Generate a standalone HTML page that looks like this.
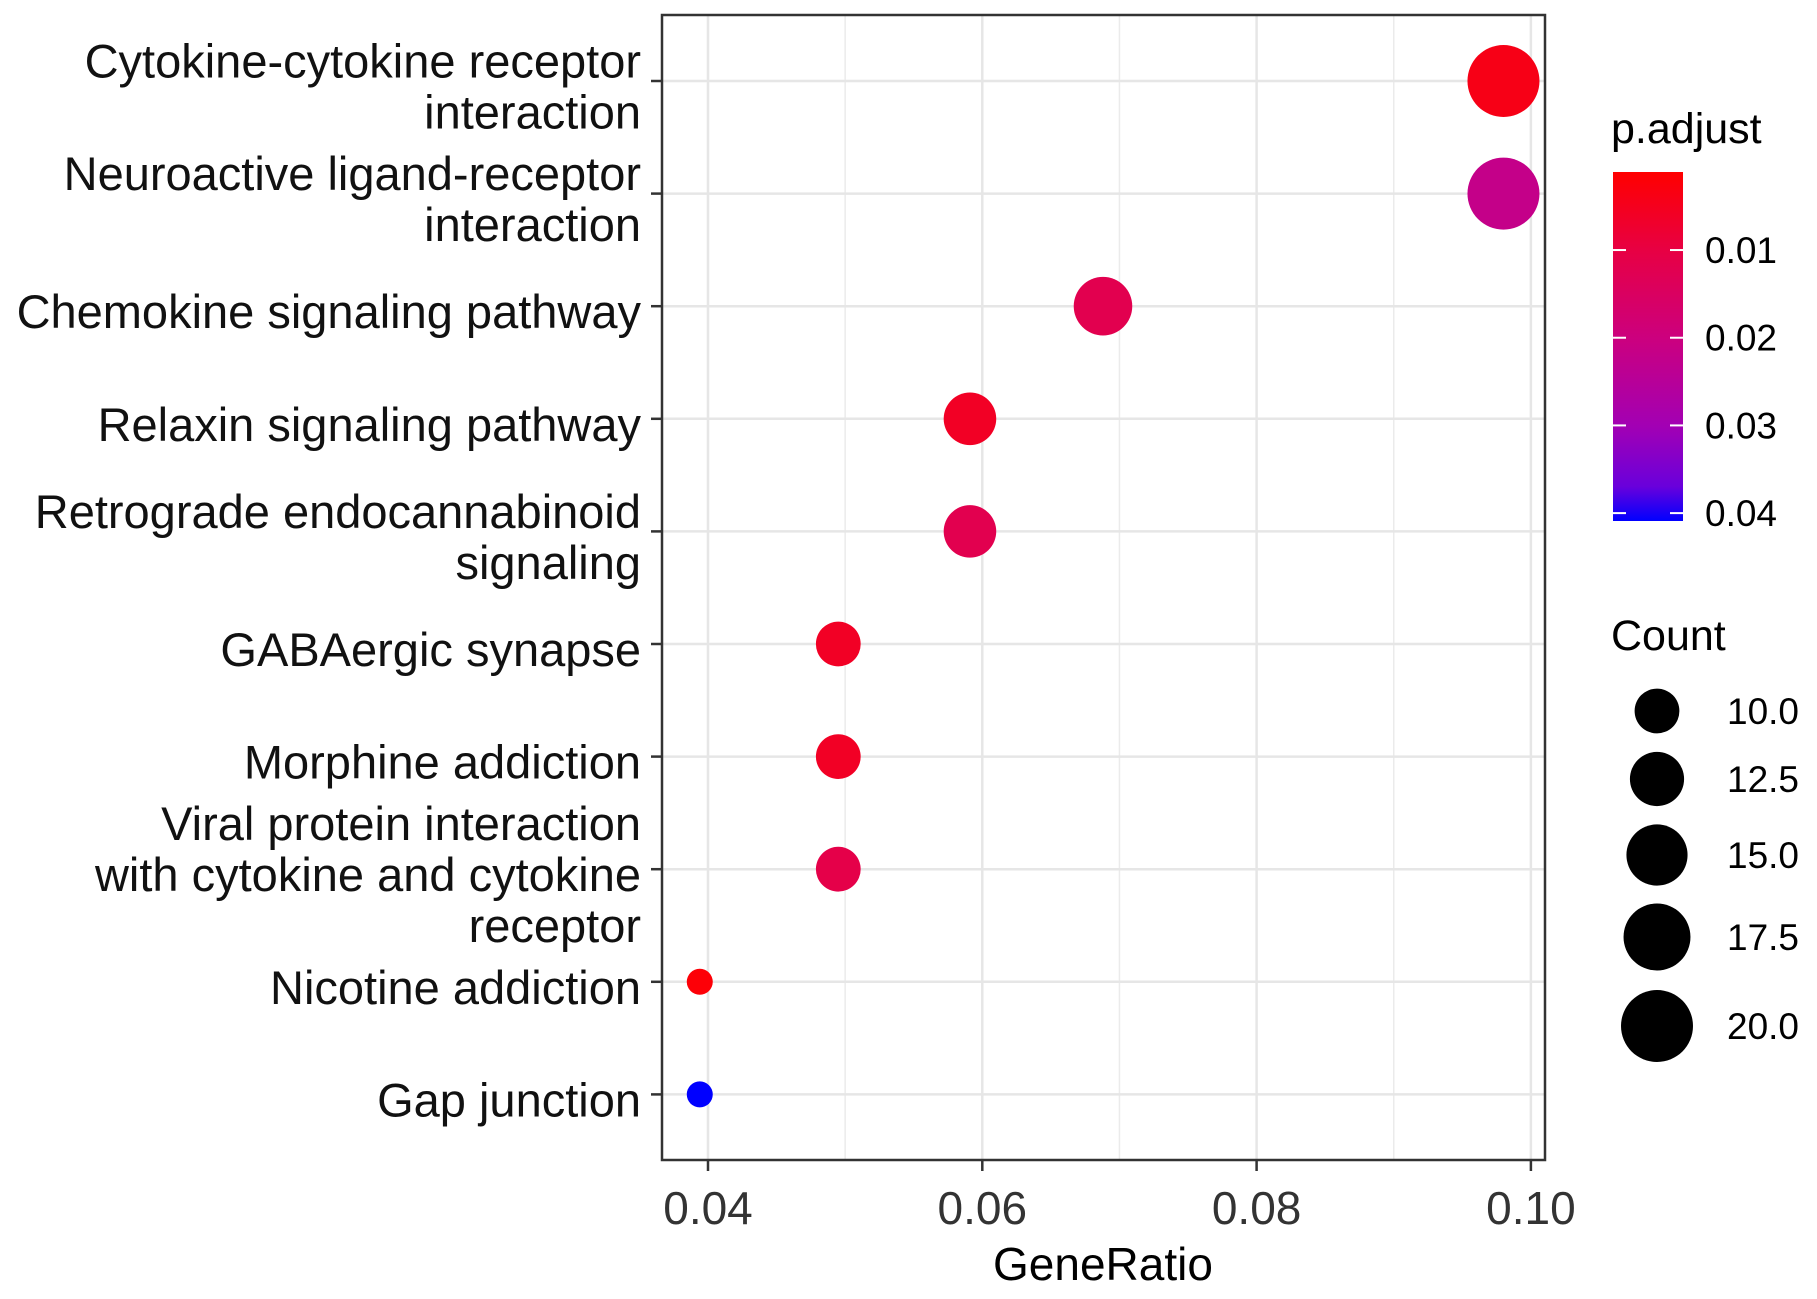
<!DOCTYPE html>
<html><head><meta charset="utf-8"><style>
html,body{margin:0;padding:0;background:#fff;}
svg{display:block;font-family:"Liberation Sans",Arial,sans-serif;}
</style></head><body>
<svg id="chart" width="1817" height="1299" viewBox="0 0 1817 1299">
<defs>
<linearGradient id="pgrad" x1="0" y1="0" x2="0" y2="1">
<stop offset="0" stop-color="#ff0000"/>
<stop offset="0.22" stop-color="#e80042"/>
<stop offset="0.475" stop-color="#cc007e"/>
<stop offset="0.73" stop-color="#a200b4"/>
<stop offset="0.9" stop-color="#6a00db"/>
<stop offset="1" stop-color="#0000ff"/>
</linearGradient>
</defs>
<g id="grid"></g>
<g id="pts"></g>
<rect x="662" y="15" width="883" height="1145" fill="none" stroke="#333" stroke-width="2.5"/>
<g id="ylab"></g>
<g id="xlab"></g>
<text x="1103" y="1280" font-size="46" text-anchor="middle" fill="#000">GeneRatio</text>
<g>
<text x="1611" y="143" font-size="43" fill="#000">p.adjust</text>
<rect x="1613" y="172" width="70" height="349" fill="url(#pgrad)"/>
<g id="cbticks"></g>
</g>
<g id="sizeleg">
<text x="1611" y="650" font-size="43" fill="#000">Count</text>
</g>
</svg>
<script>
const categories = ["Cytokine-cytokine receptor|interaction","Neuroactive ligand-receptor|interaction","Chemokine signaling pathway","Relaxin signaling pathway","Retrograde endocannabinoid|signaling","GABAergic synapse","Morphine addiction","Viral protein interaction|with cytokine and cytokine|receptor","Nicotine addiction","Gap junction"];
const geneRatio = [0.098,0.098,0.0688,0.0591,0.0591,0.0495,0.0495,0.0495,0.0394,0.0394];
const counts = [20,20,14,12,12,10,10,10,8,8];
const padj = [0.004,0.022,0.012,0.006,0.012,0.006,0.006,0.011,0.002,0.041];
const xTicks = [0.04,0.06,0.08,0.10];
const xTickLabels = ["0.04","0.06","0.08","0.10"];
const cbTicks = [0.01,0.02,0.03,0.04];
const cbTickLabels = ["0.01","0.02","0.03","0.04"];
const sizeBreaks = [10,12.5,15,17.5,20];
const sizeLabels = ["10.0","12.5","15.0","17.5","20.0"];

const NS="http://www.w3.org/2000/svg";
function mk(tag,attrs,parent){const e=document.createElementNS(NS,tag);for(const k in attrs)e.setAttribute(k,attrs[k]);parent.appendChild(e);return e;}
const xScale=v=>708+(v-0.04)/0.02*274.3;
const yScale=i=>81+i*112.6;
const cMin=8,cMax=20;
const rScale=c=>13+Math.sqrt(Math.max(0,(c-cMin)/(cMax-cMin)))*(36-13);
const pScale=p=>172+(p-0.0011)/(0.0409-0.0011)*349;
const stops=[[0,[255,0,0]],[0.22,[232,0,66]],[0.475,[204,0,126]],[0.73,[162,0,180]],[0.9,[106,0,219]],[1,[0,0,255]]];
function colorOf(p){let t=(p-0.0011)/(0.0409-0.0011);t=Math.max(0,Math.min(1,t));
for(let i=1;i<stops.length;i++){if(t<=stops[i][0]){const a=stops[i-1],b=stops[i];const u=(t-a[0])/(b[0]-a[0]);
const c=a[1].map((v,k)=>Math.round(v+(b[1][k]-v)*u));return `rgb(${c.join(',')})`;}}return "rgb(0,0,255)";}

const grid=document.getElementById('grid');
for(let k=0;k<xTicks.length-1;k++){const m=(xTicks[k]+xTicks[k+1])/2;
const l=mk('line',{x1:xScale(m),x2:xScale(m),y1:15,y2:1160,stroke:'#ebebeb','stroke-width':1.5},grid);

}
xTicks.forEach(v=>{const l=mk('line',{x1:xScale(v),x2:xScale(v),y1:15,y2:1160,stroke:'#e6e6e6','stroke-width':2.5},grid);

});
categories.forEach((c,i)=>{const l=mk('line',{x1:662,x2:1545,y1:yScale(i),y2:yScale(i),stroke:'#e6e6e6','stroke-width':2.5},grid);

});

const pts=document.getElementById('pts');
categories.forEach((c,i)=>{const e=mk('circle',{cx:xScale(geneRatio[i]),cy:yScale(i),r:rScale(counts[i]),fill:colorOf(padj[i])},pts);

});

const ylab=document.getElementById('ylab');
categories.forEach((c,i)=>{const lines=c.split('|');const lh=51;const y0=yScale(i)-(lines.length-1)*lh/2+22;
const tk=mk('line',{x1:651,x2:662,y1:yScale(i),y2:yScale(i),stroke:'#333','stroke-width':2.5},ylab);


const t=mk('text',{x:641,y:y0,'font-size':47,'text-anchor':'end',fill:'#111'},ylab);


lines.forEach((s,j)=>{const ts=mk('tspan',{x:641,dy:j?lh:0},t);ts.textContent=s;});});

const xlab=document.getElementById('xlab');
xTicks.forEach((v,k)=>{const tk=mk('line',{x1:xScale(v),x2:xScale(v),y1:1160,y2:1171,stroke:'#333','stroke-width':2.5},xlab);


const t=mk('text',{x:xScale(v),y:1224,'font-size':46,'text-anchor':'middle',fill:'#333'},xlab);


t.textContent=xTickLabels[k];});

const cb=document.getElementById('cbticks');
cbTicks.forEach((v,k)=>{const y=pScale(v);
mk('line',{x1:1613,x2:1626,y1:y,y2:y,stroke:'#fff','stroke-width':2},cb);
mk('line',{x1:1670,x2:1683,y1:y,y2:y,stroke:'#fff','stroke-width':2},cb);
const t=mk('text',{x:1705,y:y+13,'font-size':37,fill:'#000'},cb);


t.textContent=cbTickLabels[k];});

const sl=document.getElementById('sizeleg');
const legY=[711,779,855,937,1026];
sizeBreaks.forEach((v,k)=>{const c=mk('circle',{cx:1657,cy:legY[k],r:rScale(v)},sl);


const t=mk('text',{x:1727,y:legY[k]+13,'font-size':37,fill:'#000'},sl);


t.textContent=sizeLabels[k];});
</script>
</body></html>
